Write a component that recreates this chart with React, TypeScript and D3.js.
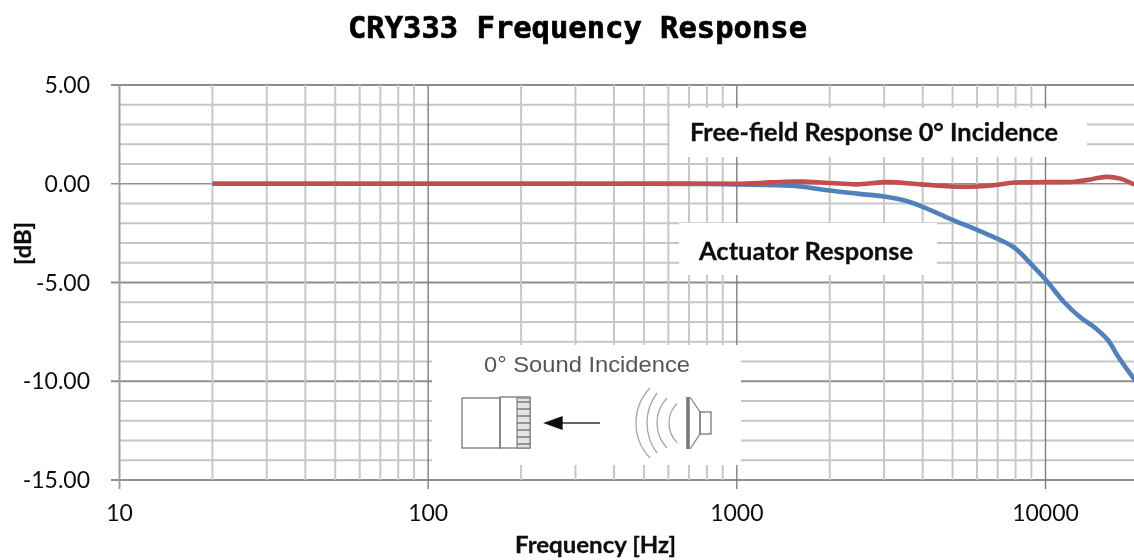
import React from "react";
import * as d3 from "d3";

const title = "CRY333 Frequency Response";
const xTickValues = [10, 100, 1000, 10000];
const yTickValues = [5, 0, -5, -10, -15];
const yGridValues = d3.range(-15, 6);
const xGridMultipliers = [2, 3, 4, 5, 6, 7, 8, 9];
const xGridDecades = [10, 100, 1000, 10000];

const freeFieldFreq = [20, 100, 400, 700, 1000, 1300, 1600, 2000, 2450, 3050, 3950, 4950, 6000, 6800, 7900, 9000, 10000, 12400, 14000, 15700, 17500, 19400, 20000];
const freeFieldDb = [0, 0, 0, 0.01, 0, 0.07, 0.11, 0.04, -0.03, 0.08, -0.03, -0.14, -0.14, -0.08, 0.06, 0.07, 0.08, 0.1, 0.22, 0.35, 0.26, -0.03, -0.06];
const actuatorFreq = [20, 100, 400, 800, 1000, 1300, 1600, 1970, 2450, 3000, 3500, 3950, 4950, 5950, 6800, 7900, 9000, 10000, 11500, 13050, 14500, 16000, 17100, 19400, 20000];
const actuatorDb = [0, 0, 0, -0.01, -0.03, -0.07, -0.14, -0.33, -0.5, -0.65, -0.85, -1.13, -1.8, -2.31, -2.7, -3.22, -4.08, -4.85, -6.0, -6.8, -7.3, -7.95, -8.7, -9.9, -10.15];

const width = 1134;
const height = 560;
const x = d3.scaleLog().domain([10, 10000]).range([119.5, 1045.5]);
const y = d3.scaleLinear().domain([5, -15]).range([85, 480]);
const right = x(20000) + 20;

const line = d3
  .line<[number, number]>()
  .x((d) => x(d[0]))
  .y((d) => y(d[1]))
  .curve(d3.curveCatmullRom.alpha(0.5));
const pairs = (a: number[], b: number[]) => a.map((f, i) => [f, b[i]] as [number, number]);

const minorX = xGridDecades.flatMap((d) => xGridMultipliers.map((m) => d * m));
const labelFont = "Lato, 'Open Sans', sans-serif";
const grilleY = [0, 1, 2, 3, 4, 5, 6];
// sound-wave arcs of the little sketch: end x, half chord, left-most x
const arcEndX = [189, 196, 206, 216];
const arcHalf = [35, 30, 25, 19.5];
const arcLeftX = [175, 186, 196, 208];

function arcPath(ex: number, half: number, lx: number) {
  const sag = ex - lx;
  const r = (half * half + sag * sag) / (2 * sag);
  return `M${ex},${26 - half} A${r},${r} 0 0 0 ${ex},${26 + half}`;
}

export default function App() {
  return (
    <svg
      width={width}
      height={height}
      viewBox={`0 0 ${width} ${height}`}
      style={{ position: "absolute", left: 0, top: 0, background: "#fff" }}
    >
      <defs>
        <filter id="soft" x="-5%" y="-5%" width="110%" height="110%">
          <feGaussianBlur stdDeviation="0.45" />
        </filter>
      </defs>
      <g filter="url(#soft)">
        {/* grid */}
        {yGridValues.map((v) => (
          <line
            key={v}
            x1={v % 5 === 0 ? 111 : 120}
            x2={right}
            y1={y(v)}
            y2={y(v)}
            stroke={v % 5 === 0 ? "#8f8f8f" : "#c6c6c6"}
            strokeWidth={v === 0 ? 1.4 : 2}
          />
        ))}
        {minorX.map((v) => (
          <line key={v} x1={x(v)} x2={x(v)} y1={y(5)} y2={y(-15)} stroke="#c8c8c8" strokeWidth={2} />
        ))}
        {xTickValues.map((v) => (
          <line
            key={v}
            x1={x(v)}
            x2={x(v)}
            y1={y(5)}
            y2={y(-15) + 9}
            stroke={v === 10 ? "#a0a0a0" : "#7e7e7e"}
            strokeWidth={v === 10 ? 2 : 1.4}
          />
        ))}

        {/* white annotation boxes */}
        <rect x={670} y={108} width={417} height={49} fill="#fff" />
        <rect x={679} y={223} width={258} height={52} fill="#fff" />
        <rect x={432} y={345} width={309} height={120} fill="#fff" />

        {/* series */}
        <path d={line(pairs(actuatorFreq, actuatorDb)) ?? ""} fill="none" stroke="#4f81bd" strokeWidth={4.6} />
        <path d={line(pairs(freeFieldFreq, freeFieldDb)) ?? ""} fill="none" stroke="#c0504d" strokeWidth={4.6} />

        {/* tick labels */}
        {yTickValues.map((v) => (
          <text
            key={v}
            x={90}
            y={y(v) + 8}
            textAnchor="end"
            fontFamily={labelFont}
            fontSize={23}
            fill="#111"
          >
            {v.toFixed(2)}
          </text>
        ))}
        {xTickValues.map((v) => (
          <text
            key={v}
            x={x(v)}
            y={521}
            textAnchor="middle"
            fontFamily={labelFont}
            fontSize={23}
            fill="#111"
          >
            {v}
          </text>
        ))}

        {/* axis titles */}
        <text x={515} y={553} fontFamily={labelFont} fontWeight={700} fontSize={22} fill="#111" stroke="#111" strokeWidth={0.3} textLength={161} lengthAdjust="spacingAndGlyphs">
          Frequency [Hz]
        </text>
        <text
          transform="translate(31,265) rotate(-90)"
          fontFamily={labelFont}
          fontWeight={700}
          fontSize={22}
          fill="#111"
          stroke="#111"
          strokeWidth={0.3}
          textLength={43}
          lengthAdjust="spacingAndGlyphs"
        >
          [dB]
        </text>

        {/* annotations */}
        <text x={690} y={141} fontFamily={labelFont} fontWeight={700} fontSize={24} fill="#111" stroke="#111" strokeWidth={0.3} textLength={368} lengthAdjust="spacingAndGlyphs">
          Free-field Response 0° Incidence
        </text>
        <text x={699} y={260} fontFamily={labelFont} fontWeight={700} fontSize={24} fill="#111" stroke="#111" strokeWidth={0.3} textLength={214} lengthAdjust="spacingAndGlyphs">
          Actuator Response
        </text>
        <text x={484} y={372} fontFamily="'Liberation Sans', Arial, sans-serif" fontSize={22} fill="#555" textLength={206} lengthAdjust="spacingAndGlyphs">
          0° Sound Incidence
        </text>

        {/* microphone, arrow and loudspeaker sketch */}
        <g transform="translate(461,397)" fill="none" stroke="#777" strokeWidth={1.3}>
          <rect x={1} y={1} width={38} height={50} />
          <rect x={39} y={0} width={30} height={51} />
          <rect x={56} y={1} width={13} height={50} fill="#e4e4e4" stroke="#888" />
          {grilleY.map((i) => (
            <line key={i} x1={56} x2={69} y1={5 + i * 7} y2={5 + i * 7} stroke="#666" />
          ))}
          <line x1={98} x2={139} y1={26} y2={26} stroke="#333" />
          <path d="M84,26 L101,20 L101,32 Z" fill="#111" stroke="#111" />
          {arcEndX.map((ex, i) => (
            <path key={ex} d={arcPath(ex, arcHalf[i], arcLeftX[i])} stroke="#a6a6a6" />
          ))}
          <line x1={227} x2={227} y1={0} y2={52} stroke="#777" strokeWidth={3.5} />
          <path d="M229,0 L239,15 L239,37 L229,52" stroke="#888" />
          <rect x={239} y={15} width={11} height={22} stroke="#777" />
        </g>

        {/* title */}
        <text
          x={348}
          y={38}
          fontFamily="'DejaVu Sans Mono', 'Noto Sans CJK SC', monospace"
          fontWeight={700}
          fontSize={30}
          fill="#000"
          stroke="#000"
          strokeWidth={0.7}
          textLength={459}
          lengthAdjust="spacingAndGlyphs"
        >
          {title}
        </text>
      </g>
    </svg>
  );
}
